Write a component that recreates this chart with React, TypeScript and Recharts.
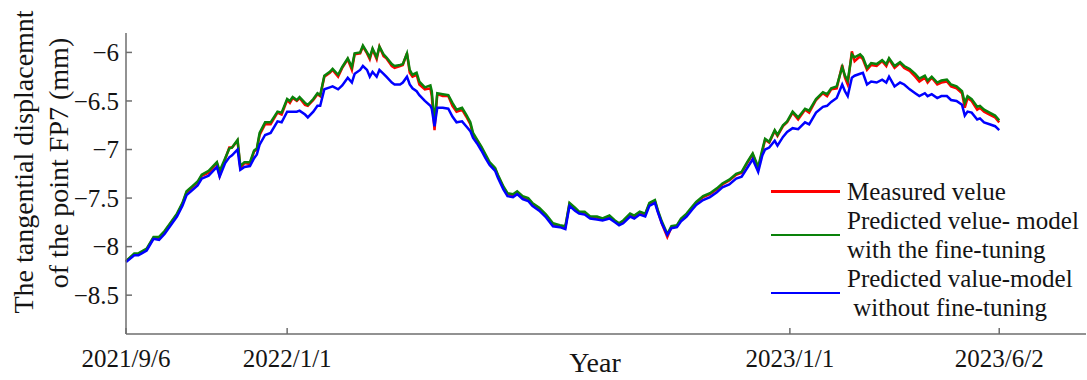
import { LineChart, Line, XAxis, YAxis } from 'recharts';

// days since 2021/9/6
const DAYS = [
  0, 6, 9, 15, 20, 24, 28, 33, 37, 41, 44, 48, 52, 55, 60, 66, 68, 72, 75, 77, 81, 83, 86, 90, 93, 95, 97, 101, 105,
  110, 113, 117, 119, 121, 124, 126, 130, 132, 136, 139, 141, 144, 148, 150, 154, 157, 161, 164, 166, 170, 172, 175,
  177, 179, 182, 184, 187, 189, 193, 195, 199, 201, 204, 206, 208, 211, 213, 217, 221, 222, 224, 226, 230, 234,
  237, 240, 244, 247, 250, 252, 255, 258, 261, 264, 268, 270, 274, 277, 281, 284, 288, 292, 295, 300, 305, 310, 315,
  319, 322, 326, 329, 333, 337, 342, 346, 351, 355, 358,
  361, 366, 369, 373, 377, 380, 384, 386, 389, 393, 396, 400, 403, 407, 411, 414, 419, 424, 429, 433, 438, 443, 447,
  451, 455, 459, 462,
  464, 467, 471, 473, 477, 480, 484, 488, 493, 496, 501, 506, 509, 512, 516, 520, 522, 524, 527, 529, 533, 535, 538,
  541, 545, 549, 552, 554, 558, 562, 565, 569, 573, 576, 580, 582, 585, 589, 592, 596, 599, 603, 607, 609, 611, 614,
  618, 620, 623, 627, 631, 634,
];

const MEASURED = [
  -8.15, -8.08, -8.08, -8.03, -7.91, -7.91, -7.85, -7.75, -7.67, -7.56, -7.44, -7.39, -7.34, -7.27, -7.24, -7.14, -7.27,
  -7.1, -6.98, -6.98, -6.91, -7.19, -7.14, -7.15, -7.02, -7.0, -6.85, -6.74, -6.74,
  -6.62, -6.64, -6.49, -6.52, -6.47, -6.5, -6.47, -6.54, -6.55, -6.49, -6.43, -6.45, -6.25, -6.21, -6.18, -6.25, -6.16,
  -6.07, -6.18, -6.02, -6.01, -5.94, -6.01, -6.07, -5.97, -6.07, -5.94, -6.04, -6.06, -6.14, -6.16, -6.14, -6.13, -6.01,
  -6.21, -6.25, -6.23, -6.33, -6.38, -6.37, -6.45, -6.8, -6.43, -6.45, -6.45,
  -6.55, -6.61, -6.59, -6.66, -6.74, -6.85, -6.91, -6.98, -7.07, -7.14, -7.2, -7.27, -7.39, -7.46, -7.47, -7.44, -7.49,
  -7.51, -7.56, -7.61, -7.68, -7.77, -7.79, -7.8, -7.56, -7.61, -7.65, -7.65, -7.7, -7.7, -7.72, -7.69, -7.74, -7.77,
  -7.74, -7.67, -7.69, -7.65, -7.67, -7.56, -7.53, -7.63, -7.76, -7.9, -7.8, -7.79, -7.72, -7.67, -7.6, -7.55, -7.49,
  -7.46, -7.41, -7.36, -7.32, -7.26, -7.24, -7.14, -7.05, -7.2, -7.02,
  -6.9, -6.93, -6.81, -6.86, -6.76, -6.72, -6.62, -6.69, -6.59, -6.62, -6.49, -6.42, -6.45, -6.38, -6.37, -6.13, -6.26,
  -6.33, -5.99, -6.09, -6.04, -6.07, -6.18, -6.13, -6.14, -6.09, -6.14, -6.07, -6.16, -6.11, -6.16, -6.19, -6.25, -6.3,
  -6.26, -6.31, -6.26, -6.33, -6.31, -6.3, -6.35, -6.37, -6.42, -6.57, -6.47, -6.5, -6.59, -6.57, -6.61, -6.64, -6.67,
  -6.72,
];

const FINE_TUNED = [
  -8.15, -8.07, -8.07, -8.02, -7.9, -7.9, -7.84, -7.74, -7.66, -7.55, -7.43, -7.38, -7.33, -7.26, -7.22, -7.13, -7.22,
  -7.09, -6.99, -6.98, -6.9, -7.17, -7.13, -7.13, -7.01, -6.99, -6.83, -6.72, -6.72,
  -6.61, -6.62, -6.48, -6.5, -6.46, -6.49, -6.46, -6.52, -6.54, -6.48, -6.42, -6.44, -6.24, -6.2, -6.17, -6.23, -6.15,
  -6.06, -6.15, -6.01, -6.0, -5.93, -6.0, -6.05, -5.96, -6.05, -5.94, -6.02, -6.05, -6.12, -6.14, -6.13, -6.12, -6.01,
  -6.18, -6.23, -6.21, -6.3, -6.36, -6.34, -6.4, -6.72, -6.42, -6.43, -6.44,
  -6.52, -6.59, -6.57, -6.64, -6.72, -6.83, -6.9, -6.97, -7.05, -7.13, -7.19, -7.26, -7.38, -7.45, -7.46, -7.43, -7.48,
  -7.5, -7.55, -7.6, -7.67, -7.76, -7.78, -7.79, -7.55, -7.6, -7.64, -7.64, -7.69, -7.69, -7.71, -7.68, -7.73, -7.76,
  -7.73, -7.66, -7.68, -7.64, -7.66, -7.55, -7.52, -7.62, -7.74, -7.87, -7.79, -7.78, -7.71, -7.66, -7.59, -7.54, -7.48,
  -7.45, -7.4, -7.35, -7.31, -7.25, -7.23, -7.13, -7.04, -7.18, -7.0,
  -6.89, -6.92, -6.8, -6.85, -6.75, -6.71, -6.61, -6.67, -6.58, -6.6, -6.48, -6.41, -6.43, -6.37, -6.35, -6.15, -6.24,
  -6.29, -6.02, -6.05, -6.02, -6.05, -6.16, -6.11, -6.12, -6.08, -6.12, -6.06, -6.14, -6.1, -6.14, -6.17, -6.22, -6.27,
  -6.24, -6.29, -6.25, -6.31, -6.29, -6.28, -6.33, -6.35, -6.4, -6.52, -6.45, -6.48, -6.56, -6.55, -6.59, -6.62, -6.65,
  -6.7,
];

const NO_FINE_TUNING = [
  -8.16, -8.09, -8.09, -8.04, -7.92, -7.93, -7.87, -7.77, -7.69, -7.58, -7.47, -7.42, -7.37, -7.3, -7.27, -7.18, -7.28,
  -7.14, -7.08, -7.06, -7.0, -7.21, -7.18, -7.17, -7.09, -7.05, -6.95, -6.85, -6.83,
  -6.71, -6.72, -6.61, -6.61, -6.61, -6.61, -6.6, -6.64, -6.67, -6.61, -6.55, -6.55, -6.38, -6.36, -6.35, -6.38, -6.34,
  -6.26, -6.31, -6.22, -6.18, -6.14, -6.18, -6.25, -6.2, -6.25, -6.18, -6.22, -6.25, -6.31, -6.33, -6.33, -6.31, -6.25,
  -6.33, -6.37, -6.4, -6.44, -6.5, -6.55, -6.58, -6.76, -6.57, -6.57, -6.58,
  -6.66, -6.72, -6.71, -6.76, -6.81, -6.88, -6.94, -7.01, -7.09, -7.16, -7.22, -7.29, -7.41, -7.48, -7.49, -7.46, -7.51,
  -7.53, -7.58, -7.63, -7.7, -7.79, -7.8, -7.82, -7.58, -7.63, -7.66, -7.67, -7.71, -7.72, -7.73, -7.71, -7.75, -7.78,
  -7.76, -7.69, -7.71, -7.67, -7.69, -7.58, -7.55, -7.64, -7.76, -7.88, -7.81, -7.8, -7.74, -7.69, -7.62, -7.57, -7.52,
  -7.49, -7.44, -7.39, -7.36, -7.3, -7.28, -7.19, -7.1, -7.23, -7.06,
  -7.0, -6.98, -6.91, -6.96, -6.87, -6.82, -6.78, -6.79, -6.72, -6.74, -6.62, -6.56, -6.55, -6.51, -6.47, -6.33, -6.4,
  -6.45, -6.26, -6.24, -6.22, -6.21, -6.33, -6.3, -6.31, -6.28, -6.31, -6.25, -6.35, -6.31, -6.33, -6.38, -6.42, -6.45,
  -6.42, -6.45, -6.43, -6.47, -6.45, -6.45, -6.49, -6.5, -6.54, -6.65, -6.61, -6.62, -6.69, -6.68, -6.72, -6.74, -6.76,
  -6.8,
];

const X_TICKS = [0, 117, 482, 634];
const X_TICK_LABELS = ['2021/9/6', '2022/1/1', '2023/1/1', '2023/6/2'];
const Y_TICKS = [-8.5, -8, -7.5, -7, -6.5, -6];

const SERIES = [
  { key: 'measured', name: 'Measured velue', color: '#ff0000' },
  { key: 'tuned', name: 'Predicted velue- model\nwith the fine-tuning', color: '#0a820a' },
  { key: 'untuned', name: 'Predicted value-model\n without fine-tuning', color: '#0000ff' },
];

const data = DAYS.map((day, i) => ({
  day,
  measured: MEASURED[i],
  tuned: FINE_TUNED[i],
  untuned: NO_FINE_TUNING[i],
}));

const FONT = '"Liberation Serif", "Times New Roman", serif';
const AXIS = '#6e6e6e';
const TEXT = '#141414';

const fmtY = (v: number) => String(v).replace('-', '\u2212');

function BottomTick({ x, y, payload }: any) {
  const label = X_TICK_LABELS[X_TICKS.indexOf(payload.value)];
  return (
    <g>
      <line x1={x} x2={x} y1={y} y2={y - 6} stroke={AXIS} strokeWidth={1.5} />
      <text x={x} y={y + 33} textAnchor="middle" fontFamily={FONT} fontSize={25} fill={TEXT}>{label}</text>
    </g>
  );
}

function TopTick({ x, y }: any) {
  return <line x1={x} x2={x} y1={y} y2={y + 6} stroke={AXIS} strokeWidth={1.5} />;
}

function LeftTick({ x, y, payload }: any) {
  return (
    <g>
      <line x1={x} x2={x + 6} y1={y} y2={y} stroke={AXIS} strokeWidth={1.5} />
      <text x={x - 7} y={y} dy="0.35em" textAnchor="end" fontFamily={FONT} fontSize={25} fill={TEXT}>{fmtY(payload.value)}</text>
    </g>
  );
}

function RightTick({ x, y }: any) {
  return <line x1={x} x2={x - 6} y1={y} y2={y} stroke={AXIS} strokeWidth={1.5} />;
}

function YTitle() {
  return (
    <g fontFamily={FONT} fontSize={28} fill={TEXT}>
      <text transform="translate(23,162) rotate(-90)" textAnchor="middle" dominantBaseline="central">The tangential displacemnt</text>
      <text transform="translate(58,163) rotate(-90)" textAnchor="middle" dominantBaseline="central">of the point FP7 (mm)</text>
    </g>
  );
}

function XTitle() {
  return (
    <text x={595} y={372} textAnchor="middle" fontFamily={FONT} fontSize={28} fill={TEXT}>Year</text>
  );
}

function LegendBox() {
  return (
    <div
      style={{
        position: 'absolute', left: 771, top: 177, width: 314,
        fontFamily: FONT, fontSize: 25, lineHeight: '29px', color: TEXT,
      }}
    >
      {SERIES.map((s) => (
        <div key={s.key} style={{ display: 'flex', alignItems: 'center' }}>
          <span style={{ display: 'inline-block', width: 69, height: 2.5, background: s.color, marginRight: 7, flexShrink: 0 }} />
          <span style={{ whiteSpace: 'pre' }}>{s.name}</span>
        </div>
      ))}
    </div>
  );
}

export default function App() {
  return (
    <div style={{ position: 'absolute', left: 0, top: 0, width: 1087, height: 380, background: '#fff' }}>
      <LineChart width={1087} height={380} data={data} margin={{ top: 33, right: 1, bottom: 0, left: 0 }}>
        <XAxis
          xAxisId="bottom"
          dataKey="day"
          type="number"
          domain={[0, 697]}
          ticks={X_TICKS}
          height={46}
          tickSize={0}
          tickMargin={0}
          tickLine={false}
          tick={<BottomTick />}
          axisLine={{ stroke: AXIS, strokeWidth: 1.5 }}
          interval={0}
          label={<XTitle />}
        />
        <XAxis
          xAxisId="top"
          orientation="top"
          type="number"
          domain={[0, 697]}
          ticks={X_TICKS}
          height={0}
          tickSize={0}
          tickMargin={0}
          tickLine={false}
          tick={<TopTick />}
          axisLine={{ stroke: AXIS, strokeWidth: 1.5 }}
          interval={0}
        />
        <YAxis
          yAxisId="left"
          type="number"
          domain={[-8.9, -5.8]}
          ticks={Y_TICKS}
          width={126}
          tickSize={0}
          tickMargin={0}
          tickLine={false}
          tick={<LeftTick />}
          axisLine={{ stroke: AXIS, strokeWidth: 1.5 }}
          interval={0}
          allowDataOverflow
          label={<YTitle />}
        />
        <YAxis
          yAxisId="right"
          orientation="right"
          type="number"
          domain={[-8.9, -5.8]}
          ticks={Y_TICKS}
          width={0}
          tickSize={0}
          tickMargin={0}
          tickLine={false}
          tick={<RightTick />}
          axisLine={{ stroke: AXIS, strokeWidth: 1.5 }}
          interval={0}
          allowDataOverflow
        />
        {SERIES.map((s) => (
          <Line
            key={s.key}
            xAxisId="bottom"
            yAxisId="left"
            dataKey={s.key}
            name={s.name}
            stroke={s.color}
            strokeWidth={2.5}
            dot={false}
            isAnimationActive={false}
          />
        ))}
      </LineChart>
      <LegendBox />
    </div>
  );
}
